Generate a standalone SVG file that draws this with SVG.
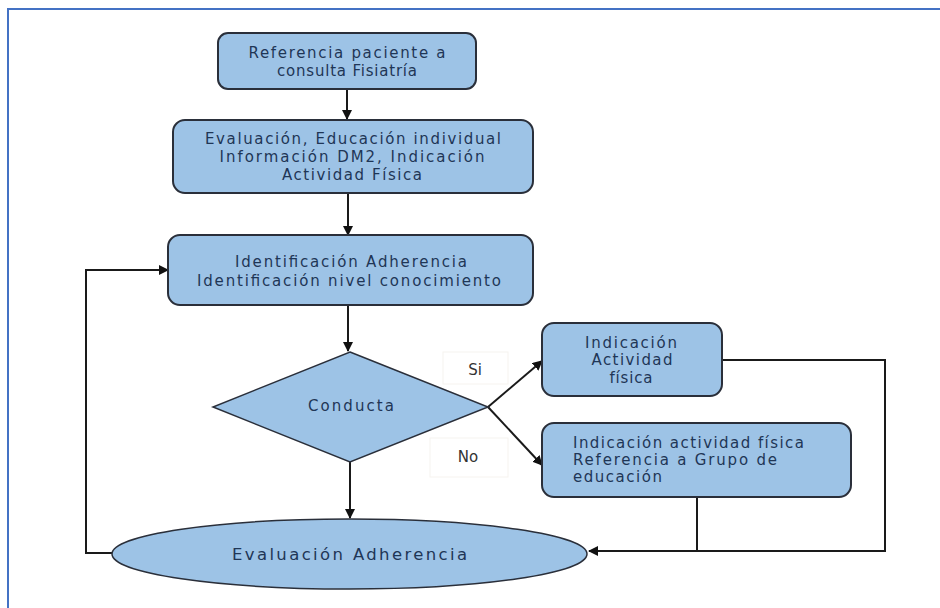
<svg xmlns="http://www.w3.org/2000/svg" width="940" height="608" viewBox="0 0 940 608">
<defs>
<marker id="ah" markerWidth="10" markerHeight="10" refX="9" refY="5" orient="auto" markerUnits="userSpaceOnUse">
<path d="M0,0 L10,5 L0,10 Z" fill="#111"/>
</marker>
<style>
.box{fill:#9dc3e6;stroke:#2a2f3a;stroke-width:2}
.t{font-family:"DejaVu Sans","Liberation Sans",sans-serif;font-size:15px;fill:#1f3656;text-anchor:middle}
.tl{text-anchor:start}
.lbl{font-family:"DejaVu Sans","Liberation Sans",sans-serif;font-size:15px;fill:#333;text-anchor:middle}
.lblbox{fill:#fff;stroke:#f6f3ef;stroke-width:1}
.c{fill:none;stroke:#1a1a1a;stroke-width:2}
.ca{fill:none;stroke:#1a1a1a;stroke-width:2;marker-end:url(#ah)}
</style>
</defs>
<rect x="0" y="0" width="940" height="608" fill="#fff"/>
<path d="M8,608 L8,9 L940,9" fill="none" stroke="#4472c4" stroke-width="2"/>

<g id="connectors">
<line class="ca" x1="347" y1="89" x2="347" y2="119"/>
<line class="ca" x1="348" y1="193" x2="348" y2="235"/>
<line class="ca" x1="348" y1="305" x2="348" y2="351"/>
<line class="ca" x1="350" y1="462" x2="350" y2="518"/>
<line class="ca" x1="488" y1="407" x2="542" y2="361"/>
<line class="ca" x1="488" y1="407" x2="542" y2="465"/>
<polyline class="ca" points="722,360 885,360 885,551 589,551"/>
<line class="c" x1="697" y1="497" x2="697" y2="551"/>
<polyline class="ca" points="112,553 86,553 86,270 168,270"/>
</g>

<g id="n1">
<rect class="box" x="218" y="33" width="258" height="56" rx="10"/>
<text class="t" x="347" y="58" textLength="197">Referencia paciente a</text>
<text class="t" x="347" y="76" textLength="140">consulta Fisiatría</text>
</g>

<g id="n2">
<rect class="box" x="173" y="120" width="360" height="73" rx="12"/>
<text class="t" x="353" y="144" textLength="296">Evaluación, Educación individual</text>
<text class="t" x="352" y="162" textLength="265">Información DM2, Indicación</text>
<text class="t" x="352" y="180" textLength="140">Actividad Física</text>
</g>

<g id="n3">
<rect class="box" x="168" y="235" width="365" height="70" rx="12"/>
<text class="t" x="351" y="267" textLength="232">Identificación Adherencia</text>
<text class="t" x="349" y="286" textLength="304">Identificación nivel conocimiento</text>
</g>

<g id="n4">
<polygon class="box" points="350,352 488,407 350,462 213,407" style="stroke-width:1.5"/>
<text class="t" x="351" y="411" textLength="86">Conducta</text>
</g>

<g id="lblSi">
<rect class="lblbox" x="443" y="352" width="65" height="32"/>
<text class="lbl" x="475" y="375">Si</text>
</g>
<g id="lblNo">
<rect class="lblbox" x="430" y="438" width="78" height="39"/>
<text class="lbl" x="468" y="462">No</text>
</g>

<g id="n5">
<rect class="box" x="542" y="323" width="180" height="73" rx="12"/>
<text class="t" x="631" y="348" textLength="92">Indicación</text>
<text class="t" x="632" y="365" textLength="81">Actividad</text>
<text class="t" x="631" y="383" textLength="43">física</text>
</g>

<g id="n6">
<rect class="box" x="542" y="423" width="309" height="74" rx="12"/>
<text class="t tl" x="573" y="448" textLength="231">Indicación actividad física</text>
<text class="t tl" x="573" y="465" textLength="204">Referencia a Grupo de</text>
<text class="t tl" x="573" y="482" textLength="89">educación</text>
</g>

<g id="n7">
<ellipse class="box" cx="349.5" cy="554" rx="237.5" ry="35" style="stroke-width:1.5"/>
<text class="t" x="349.5" y="560" style="font-size:16.5px" textLength="235">Evaluación Adherencia</text>
</g>
</svg>
